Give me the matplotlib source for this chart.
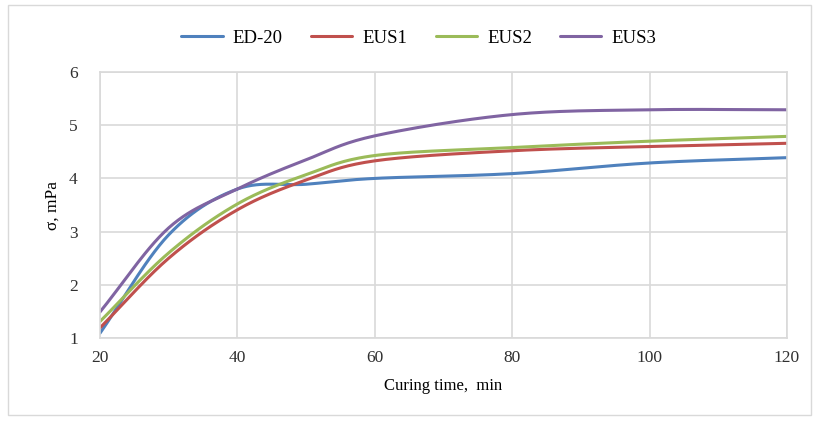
import numpy as np
import matplotlib
matplotlib.use('Agg')
import matplotlib.pyplot as plt
from matplotlib.patches import Rectangle

plt.rcParams['font.family'] = ['Liberation Serif', 'DejaVu Serif']

# curing time, min
time = [20, 30, 40, 50, 60, 80, 100, 120]
ed20 = [1.09, 2.94, 3.80, 3.89, 4.00, 4.09, 4.29, 4.39]
eus1 = [1.19, 2.50, 3.41, 3.97, 4.33, 4.52, 4.60, 4.66]
eus2 = [1.31, 2.60, 3.52, 4.07, 4.43, 4.58, 4.70, 4.79]
eus3 = [1.49, 3.07, 3.80, 4.35, 4.80, 5.20, 5.29, 5.29]

names = ['ED-20', 'EUS1', 'EUS2', 'EUS3']
colors = ['#4F81BD', '#C0504D', '#9BBB59', '#8064A2']


def smooth(x, y, n=30):
    # catmull-rom through the points, roughly like Excel's smoothed line
    x = np.asarray(x, float)
    y = np.asarray(y, float)
    px = np.concatenate([[2 * x[0] - x[1]], x, [2 * x[-1] - x[-2]]])
    py = np.concatenate([[2 * y[0] - y[1]], y, [2 * y[-1] - y[-2]]])
    xs, ys = [], []
    t = np.linspace(0, 1, n)
    for i in range(1, len(px) - 2):
        for p, out in ((px, xs), (py, ys)):
            p0, p1, p2, p3 = p[i - 1], p[i], p[i + 1], p[i + 2]
            out.append(0.5 * (2 * p1 + (-p0 + p2) * t
                              + (2 * p0 - 5 * p1 + 4 * p2 - p3) * t ** 2
                              + (-p0 + 3 * p1 - 3 * p2 + p3) * t ** 3))
    return np.concatenate(xs), np.concatenate(ys)


fig = plt.figure(figsize=(8.18, 4.21), dpi=100)
ax = fig.add_axes([100 / 818, 1 - 338 / 421, 687 / 818, 266 / 421])

for name, vals, c in zip(names, [ed20, eus1, eus2, eus3], colors):
    sx, sy = smooth(time, vals)
    ax.plot(sx, sy, color=c, linewidth=2.2, label=name, solid_capstyle='round')

ax.set_xlim(20, 120)
ax.set_ylim(1, 6)
ax.set_xticks([20, 40, 60, 80, 100, 120])
ax.set_yticks([1, 2, 3, 4, 5, 6])
ax.grid(True, color='#D9D9D9', linewidth=1.2)
ax.set_axisbelow(True)
for s in ax.spines.values():
    s.set_color('#D9D9D9')
    s.set_linewidth(1.2)
ax.tick_params(length=0, labelsize=12.5, colors='#303030', pad=9)
ax.tick_params(axis='y', pad=16)
ax.set_xlabel('Curing time,  min', fontsize=12, labelpad=8)
ax.set_ylabel('σ, mPa', fontsize=12.5, labelpad=6)

fig.legend(*ax.get_legend_handles_labels(), loc='center',
           bbox_to_anchor=(419 / 818, 1 - 38 / 421), ncol=4, frameon=False,
           fontsize=13.5, handlelength=2.2, columnspacing=1.5, handletextpad=0.55)

fig.patches.append(Rectangle((8 / 818, 6 / 421), 803 / 818, 410 / 421,
                             transform=fig.transFigure, fill=False,
                             edgecolor='#D9D9D9', linewidth=1))

fig.savefig('out.png', dpi=100)
